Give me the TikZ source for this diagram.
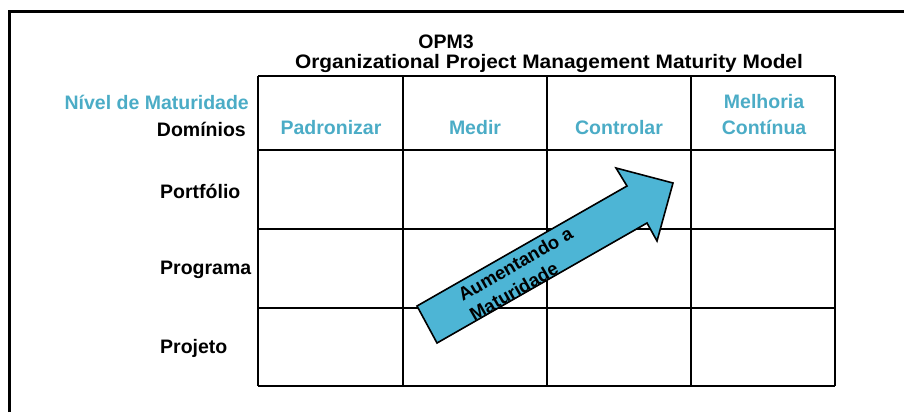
\documentclass[tikz,border=0pt]{standalone}
\usepackage{fontspec}
\setmainfont{Liberation Sans}
\definecolor{hdblue}{HTML}{4BACC6}
\definecolor{arrowblue}{HTML}{4DB5D5}
\begin{document}
\begin{tikzpicture}[x=1pt,y=-1pt,
  lbl/.style={font=\fontsize{19.5}{22}\selectfont\bfseries, inner sep=0pt},
  hdr/.style={lbl, text=hdblue, align=center},
  gridline/.style={line width=2pt, black}]
\useasboundingbox (0,0) rectangle (904,412);
% outer frame
\draw[line width=3pt] (9,412) -- (9,11.5) -- (904,11.5);
% grid
\foreach \x in {258,403,547,691,835} \draw[gridline] (\x,76) -- (\x,386);
\foreach \y in {76,150,229,308,386} \draw[gridline] (258,\y) -- (835,\y);
% title
\node[lbl] (t1) at (446,42) {OPM3};
\node[lbl] (t2) at (549,64) {\scalebox{1.07}[1]{Organizational Project Management Maturity Model}};
% headers
\node[hdr, anchor=east] (nivel) at (249,102) {Nível de Maturidade};
\node[lbl, anchor=east] (dom) at (246,129) {Domínios};
\node[hdr] (h1) at (331,128) {Padronizar};
\node[hdr] (h2) at (475,128) {Medir};
\node[hdr] (h3) at (619,128) {Controlar};
\node[hdr] (h4) at (764,115) {Melhoria\\[4pt]Contínua};
% rows
\node[lbl, anchor=west] (r1) at (160,191) {Portfólio};
\node[lbl, anchor=west] (r2) at (160,270) {Programa};
\node[lbl, anchor=west] (r3) at (160,348) {Projeto};
% arrow
\draw[line width=1.6pt, fill=arrowblue, line join=miter]
  (417,306) -- (627,186) -- (616,168) -- (673,183) -- (657,241) -- (647,223) -- (437,343) -- cycle;
\node[lbl, font=\fontsize{18.5}{23}\selectfont\bfseries, align=left, rotate=30] (arr) at (521,274) {Aumentando a\\Maturidade};
\end{tikzpicture}
\end{document}
